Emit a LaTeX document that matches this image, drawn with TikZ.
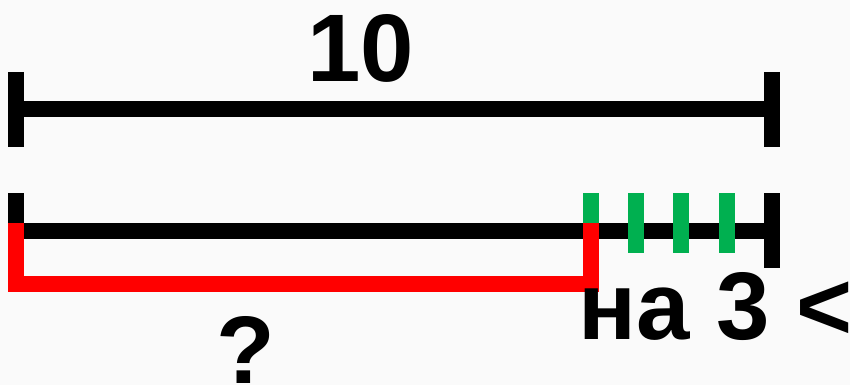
\documentclass[tikz,border=0pt]{standalone}
\usepackage{fontspec}
\setmainfont{Liberation Sans}
\definecolor{bg}{RGB}{250,250,250}
\definecolor{tickgreen}{RGB}{0,176,80}
\definecolor{segred}{RGB}{255,0,0}
\tikzset{
  bar/.style={line width=16pt, line cap=butt, line join=miter, draw=black},
  redbar/.style={bar, draw=segred},
  greentick/.style={bar, draw=tickgreen},
  bigtext/.style={inner sep=0pt, font=\bfseries\fontsize{96}{100}\selectfont}
}
\begin{document}
\begin{tikzpicture}[x=1pt,y=-1pt]
\useasboundingbox (0,0) rectangle (850,385);
\clip (0,0) rectangle (850,385);
\fill[bg] (0,0) rectangle (850,385);
% top segment
\coordinate (tl) at (16,109);
\coordinate (tr) at (772,109);
\draw[bar] (16,72) -- (16,147);
\draw[bar] (772,72) -- (772,147);
\draw[bar] (tl) -- (tr);
\node[bigtext, anchor=base] (ten) at (361,82) {10};
% bottom segment
\coordinate (bl) at (16,230.5);
\coordinate (br) at (772,230.5);
\draw[bar] (16,193) -- (16,238);
\draw[bar] (772,193) -- (772,268);
\draw[bar] (bl) -- (br);
\draw[greentick] (591,193) -- (591,253);
\draw[greentick] (636,193) -- (636,253);
\draw[greentick] (681,193) -- (681,253);
\draw[greentick] (727,193) -- (727,253);
\draw[redbar] (16,223) -- (16,284) -- (591,284) -- (591,223);
\node[bigtext, anchor=base west] (na) at (578,339) {на 3 <};
\node[bigtext, anchor=base] (q) at (246,383) {?};
\end{tikzpicture}
\end{document}
